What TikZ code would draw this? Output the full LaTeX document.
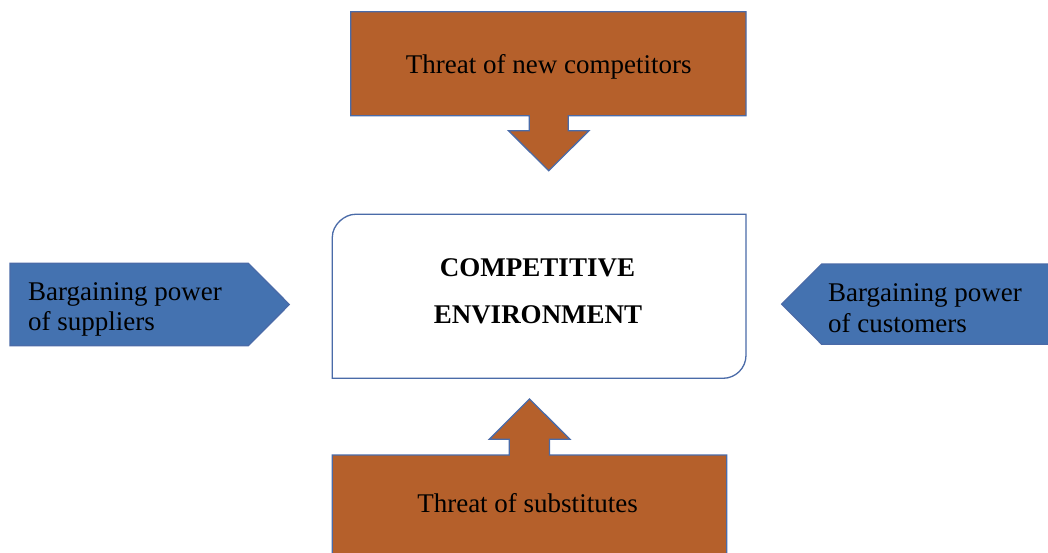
\documentclass[tikz,border=0pt]{standalone}
\usepackage{fontspec}
\setmainfont{Liberation Serif}
\definecolor{rust}{HTML}{B5602B}
\definecolor{steel}{HTML}{4472B0}
\definecolor{edgeblue}{HTML}{4A6BA8}
\tikzset{
  outline/.style={draw=edgeblue, line width=1.3pt, line join=miter},
  rustshape/.style={outline, fill=rust},
  blueshape/.style={outline, fill=steel},
  lbl/.style={font=\fontsize{27}{30}\selectfont, inner sep=0pt, text=black},
  boldlbl/.style={font=\fontsize{27}{30}\selectfont\bfseries, inner sep=0pt, text=black},
}
\begin{document}
\begin{tikzpicture}[x=1pt,y=-1pt]
\useasboundingbox (0,0) rectangle (1048,553);
\fill[white] (0,0) rectangle (1048,553);

% top callout
\path[rustshape] (350.7,11.7) -- (746,11.7) -- (746,115.7) -- (568.2,115.7) -- (568.2,130.7)
  -- (589,130.7) -- (548.7,170.7) -- (508.5,130.7) -- (529.2,130.7) -- (529.2,115.7)
  -- (350.7,115.7) -- cycle;
\node[lbl, anchor=base] (newcomp) at (548.8,74) {Threat of new competitors};

% bottom callout
\path[rustshape] (332.3,565) -- (332.3,455) -- (509.3,455) -- (509.3,439.3) -- (489.3,439.3)
  -- (529.5,399) -- (570,439.3) -- (549.5,439.3) -- (549.5,455) -- (726.7,455)
  -- (726.7,565) -- cycle;
\node[lbl, anchor=base] (subst) at (527.5,512) {Threat of substitutes};

% left pentagon
\path[blueshape] (10,263.3) -- (248.3,263.3) -- (289.3,304.5) -- (248.3,345.7) -- (10,345.7) -- cycle;
\node[lbl, anchor=base west] (supp1) at (28,300) {Bargaining power};
\node[lbl, anchor=base west] (supp2) at (28,330) {of suppliers};

% right pentagon
\path[blueshape] (1060,264) -- (821.7,264) -- (781.7,304.2) -- (821.7,344.3) -- (1060,344.3) -- cycle;
\node[lbl, anchor=base west] (cust1) at (828,301) {Bargaining power};
\node[lbl, anchor=base west] (cust2) at (828,332) {of customers};

% center box
\draw[outline, fill=white] (332.3,378.3) -- (332.3,237.3)
  .. controls (332.3,224.6) and (344.6,214.3) .. (355.3,214.3)
  -- (746,214.3) -- (746,355.3)
  .. controls (746,368) and (735.7,378.3) .. (723,378.3) -- cycle;
\node[boldlbl, anchor=base] (comp1) at (537.5,276) {COMPETITIVE};
\node[boldlbl, anchor=base] (comp2) at (538,323.3) {ENVIRONMENT};
\end{tikzpicture}
\end{document}
